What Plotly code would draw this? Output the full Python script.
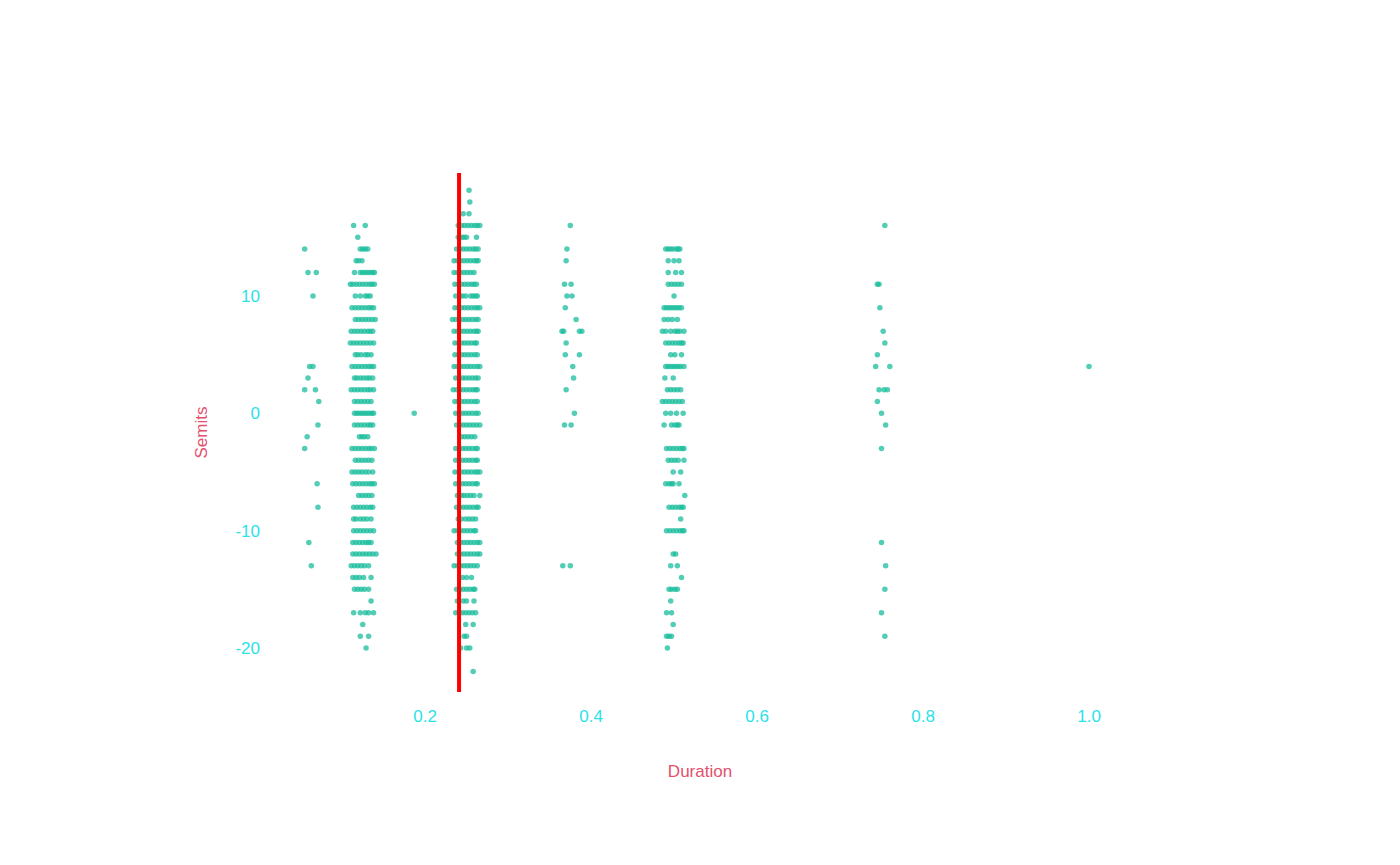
import plotly.graph_objects as go

# -------------------------------
# Data: durations, grouped by note length,
# keyed by semitone row (Semits -> list of jittered durations)
# -------------------------------
sixteenth = {
    14: [0.055], 12: [0.059, 0.069], 10: [0.065], 4: [0.061, 0.065],
    3: [0.059], 2: [0.055, 0.068], 1: [0.072], -1: [0.071], -2: [0.058],
    -3: [0.055], -6: [0.070], -8: [0.071], -11: [0.060], -13: [0.063],
}

eighth = {
    16: [0.114, 0.128],
    15: [0.119],
    14: [0.122, 0.125, 0.128, 0.131],
    13: [0.117, 0.120, 0.124],
    12: [0.115, 0.122, 0.125, 0.128, 0.131, 0.134, 0.137, 0.139],
    11: [0.110, 0.113, 0.117, 0.121, 0.125, 0.129, 0.133, 0.136, 0.139],
    10: [0.116, 0.122, 0.128, 0.131, 0.134],
    9: [0.112, 0.116, 0.120, 0.124, 0.128, 0.132, 0.135, 0.138],
    8: [0.116, 0.120, 0.124, 0.128, 0.132, 0.136, 0.140],
    7: [0.111, 0.115, 0.119, 0.123, 0.127, 0.131, 0.134, 0.137],
    6: [0.110, 0.114, 0.118, 0.122, 0.126, 0.130, 0.134, 0.138],
    5: [0.116, 0.119, 0.123, 0.128, 0.131, 0.135],
    4: [0.112, 0.116, 0.120, 0.124, 0.128, 0.132, 0.135, 0.138],
    3: [0.115, 0.118, 0.122, 0.126, 0.130, 0.133, 0.137],
    2: [0.111, 0.115, 0.119, 0.123, 0.127, 0.131, 0.134, 0.138],
    1: [0.115, 0.119, 0.123, 0.127, 0.131, 0.135],
    0: [0.115, 0.118, 0.121, 0.124, 0.127, 0.130, 0.133, 0.136, 0.138],
    -1: [0.115, 0.119, 0.123, 0.127, 0.131, 0.134, 0.137],
    -2: [0.121, 0.124, 0.127, 0.131],
    -3: [0.112, 0.116, 0.120, 0.124, 0.128, 0.132, 0.135, 0.139],
    -4: [0.116, 0.120, 0.124, 0.128, 0.132, 0.136],
    -5: [0.112, 0.116, 0.120, 0.124, 0.128, 0.132, 0.137],
    -6: [0.113, 0.117, 0.121, 0.125, 0.129, 0.133, 0.136, 0.139],
    -7: [0.120, 0.124, 0.128, 0.132, 0.136],
    -8: [0.114, 0.118, 0.122, 0.126, 0.130, 0.134, 0.137],
    -9: [0.114, 0.117, 0.122, 0.126, 0.130, 0.135],
    -10: [0.114, 0.118, 0.122, 0.126, 0.130, 0.134, 0.138],
    -11: [0.113, 0.117, 0.121, 0.125, 0.129, 0.132, 0.135],
    -12: [0.113, 0.117, 0.121, 0.125, 0.129, 0.133, 0.137, 0.141],
    -13: [0.111, 0.115, 0.119, 0.123, 0.127, 0.132],
    -14: [0.113, 0.117, 0.121, 0.126, 0.135],
    -15: [0.115, 0.119, 0.123, 0.127, 0.132],
    -16: [0.135],
    -17: [0.114, 0.122, 0.128, 0.132, 0.138],
    -18: [0.125],
    -19: [0.122, 0.132],
    -20: [0.129],
}

dotted_eighth = {0: [0.187]}

quarter = {
    19: [0.253],
    18: [0.254],
    17: [0.246, 0.253],
    16: [0.240, 0.244, 0.248, 0.252, 0.256, 0.260, 0.263, 0.266],
    15: [0.240, 0.244, 0.247, 0.250, 0.262],
    14: [0.238, 0.242, 0.246, 0.250, 0.254, 0.258, 0.261, 0.264],
    13: [0.235, 0.239, 0.243, 0.247, 0.251, 0.255, 0.259, 0.262, 0.264],
    12: [0.235, 0.239, 0.243, 0.247, 0.251, 0.255, 0.259],
    11: [0.236, 0.240, 0.244, 0.248, 0.252, 0.256, 0.259, 0.262],
    10: [0.237, 0.242, 0.245, 0.249, 0.255, 0.258, 0.261, 0.263],
    9: [0.236, 0.240, 0.244, 0.248, 0.252, 0.256, 0.260, 0.263, 0.266],
    8: [0.233, 0.237, 0.241, 0.245, 0.249, 0.253, 0.257, 0.261, 0.264],
    7: [0.235, 0.239, 0.243, 0.247, 0.251, 0.255, 0.259, 0.262, 0.264],
    6: [0.236, 0.240, 0.244, 0.248, 0.252, 0.256, 0.260, 0.262],
    5: [0.236, 0.240, 0.244, 0.248, 0.252, 0.256, 0.260, 0.263],
    4: [0.235, 0.239, 0.243, 0.247, 0.251, 0.255, 0.259, 0.263, 0.266],
    3: [0.237, 0.241, 0.245, 0.249, 0.253, 0.257, 0.261, 0.264],
    2: [0.234, 0.238, 0.242, 0.246, 0.250, 0.254, 0.258, 0.261, 0.263],
    1: [0.236, 0.240, 0.244, 0.248, 0.252, 0.256, 0.260, 0.263],
    0: [0.237, 0.241, 0.245, 0.249, 0.253, 0.257, 0.261, 0.264],
    -1: [0.238, 0.242, 0.246, 0.250, 0.254, 0.258, 0.262, 0.266],
    -2: [0.244, 0.248, 0.252, 0.256, 0.260],
    -3: [0.237, 0.241, 0.245, 0.249, 0.253, 0.257, 0.261, 0.263],
    -4: [0.237, 0.241, 0.245, 0.249, 0.253, 0.257, 0.261, 0.263],
    -5: [0.236, 0.240, 0.244, 0.248, 0.252, 0.256, 0.260, 0.263, 0.266],
    -6: [0.237, 0.241, 0.245, 0.249, 0.253, 0.257, 0.261, 0.263],
    -7: [0.239, 0.244, 0.247, 0.251, 0.255, 0.259, 0.266],
    -8: [0.238, 0.242, 0.246, 0.250, 0.254, 0.258, 0.262, 0.264],
    -9: [0.240, 0.244, 0.249, 0.253, 0.257, 0.261],
    -10: [0.235, 0.239, 0.243, 0.247, 0.251, 0.255, 0.259, 0.261],
    -11: [0.239, 0.243, 0.247, 0.251, 0.255, 0.259, 0.263, 0.266],
    -12: [0.239, 0.243, 0.247, 0.251, 0.255, 0.259, 0.263, 0.266],
    -13: [0.235, 0.239, 0.243, 0.247, 0.251, 0.255, 0.259, 0.263],
    -14: [0.245, 0.250, 0.256],
    -15: [0.238, 0.242, 0.246, 0.250, 0.254, 0.258, 0.260],
    -16: [0.239, 0.246, 0.250, 0.259],
    -17: [0.237, 0.241, 0.245, 0.249, 0.253, 0.257, 0.261],
    -18: [0.249, 0.258],
    -19: [0.247, 0.250],
    -20: [0.243, 0.250, 0.254],
    -22: [0.258],
}

dotted_quarter = {
    16: [0.375], 14: [0.371], 13: [0.370], 11: [0.368, 0.376],
    10: [0.371, 0.377], 9: [0.369], 8: [0.382],
    7: [0.365, 0.367, 0.386, 0.389], 6: [0.370], 5: [0.369, 0.386],
    4: [0.378], 3: [0.379], 2: [0.370], 0: [0.380], -1: [0.368, 0.376],
    -13: [0.366, 0.375],
}

half = {
    14: [0.490, 0.493, 0.496, 0.499, 0.503, 0.505, 0.507],
    13: [0.493, 0.500, 0.506],
    12: [0.493, 0.502, 0.509],
    11: [0.493, 0.497, 0.501, 0.505, 0.509],
    10: [0.500],
    9: [0.488, 0.491, 0.494, 0.497, 0.500, 0.503, 0.506, 0.509],
    8: [0.488, 0.493, 0.498, 0.504],
    7: [0.486, 0.490, 0.496, 0.501, 0.504, 0.507, 0.512],
    6: [0.490, 0.494, 0.498, 0.502, 0.506, 0.509, 0.511],
    5: [0.496, 0.501, 0.509],
    4: [0.490, 0.493, 0.496, 0.499, 0.502, 0.505, 0.508, 0.512],
    3: [0.489, 0.499],
    2: [0.492, 0.496, 0.500, 0.504, 0.508],
    1: [0.486, 0.490, 0.494, 0.498, 0.502, 0.506, 0.510],
    0: [0.490, 0.496, 0.503, 0.511],
    -1: [0.488, 0.497, 0.501, 0.504, 0.506],
    -3: [0.491, 0.495, 0.499, 0.503, 0.507, 0.510, 0.512],
    -4: [0.493, 0.497, 0.501, 0.505, 0.512],
    -5: [0.499, 0.508],
    -6: [0.490, 0.494, 0.497, 0.499, 0.506],
    -7: [0.513],
    -8: [0.494, 0.498, 0.502, 0.506, 0.509, 0.511],
    -9: [0.508],
    -10: [0.491, 0.495, 0.499, 0.503, 0.507, 0.510, 0.512],
    -12: [0.499, 0.502],
    -13: [0.496, 0.504],
    -14: [0.509],
    -15: [0.494, 0.497, 0.501, 0.504],
    -16: [0.496],
    -17: [0.491, 0.497],
    -18: [0.499],
    -19: [0.491, 0.494, 0.497],
    -20: [0.492],
}

dotted_half = {
    16: [0.754], 11: [0.745, 0.747], 9: [0.748], 7: [0.752], 6: [0.754],
    5: [0.745], 4: [0.743, 0.760], 2: [0.747, 0.753, 0.757], 1: [0.745],
    0: [0.750], -1: [0.755], -3: [0.750], -11: [0.750], -13: [0.755],
    -15: [0.754], -17: [0.750], -19: [0.754],
}

whole = {4: [1.0]}

mean_duration = 0.241

x_ticks = [0.2, 0.4, 0.6, 0.8, 1.0]
y_ticks = [-20, -10, 0, 10]
y_tick_labels = ["-20", "-10", "0", "10"]

# -------------------------------
# Flatten into x / y lists
# -------------------------------
durations, semits = [], []
for cluster in [sixteenth, eighth, dotted_eighth, quarter,
                dotted_quarter, half, dotted_half, whole]:
    for semit, durs in cluster.items():
        for d in durs:
            durations.append(d)
            semits.append(semit)

TICK_COLOR = "#2ae2e8"
TITLE_COLOR = "#e3506d"
FONT = "Liberation Sans, Arial, sans-serif"

fig = go.Figure()
fig.add_trace(go.Scatter(
    x=durations,
    y=semits,
    mode="markers",
    marker=dict(size=5.5, color="#1abc9c", opacity=0.75),
    showlegend=False,
))

# red line at the mean duration
fig.add_vline(x=mean_duration, line_color="red", line_width=4)

# page body has an 8px margin, so the figure is sized to fill the rest
fig.update_layout(
    width=1392,
    height=857,
    template="plotly_white",
    paper_bgcolor="white",
    plot_bgcolor="white",
    font=dict(family=FONT),
    margin=dict(l=257, r=265, t=165, b=173),
    xaxis=dict(
        title=dict(text="Duration", font=dict(color=TITLE_COLOR, size=17), standoff=40),
        range=[0.0072, 1.0554],
        tickvals=x_ticks,
        tickformat=".1f",
        tickfont=dict(color=TICK_COLOR, size=17),
        ticklabelstandoff=12,
        showgrid=False,
        zeroline=False,
        showline=False,
    ),
    yaxis=dict(
        title=dict(text="Semits", font=dict(color=TITLE_COLOR, size=17), standoff=23),
        range=[-23.75, 20.48],
        tickvals=y_ticks,
        ticktext=y_tick_labels,
        tickfont=dict(color=TICK_COLOR, size=17),
        ticklabelstandoff=4,
        showgrid=False,
        zeroline=False,
        showline=False,
    ),
)

fig.write_html("out.html")
